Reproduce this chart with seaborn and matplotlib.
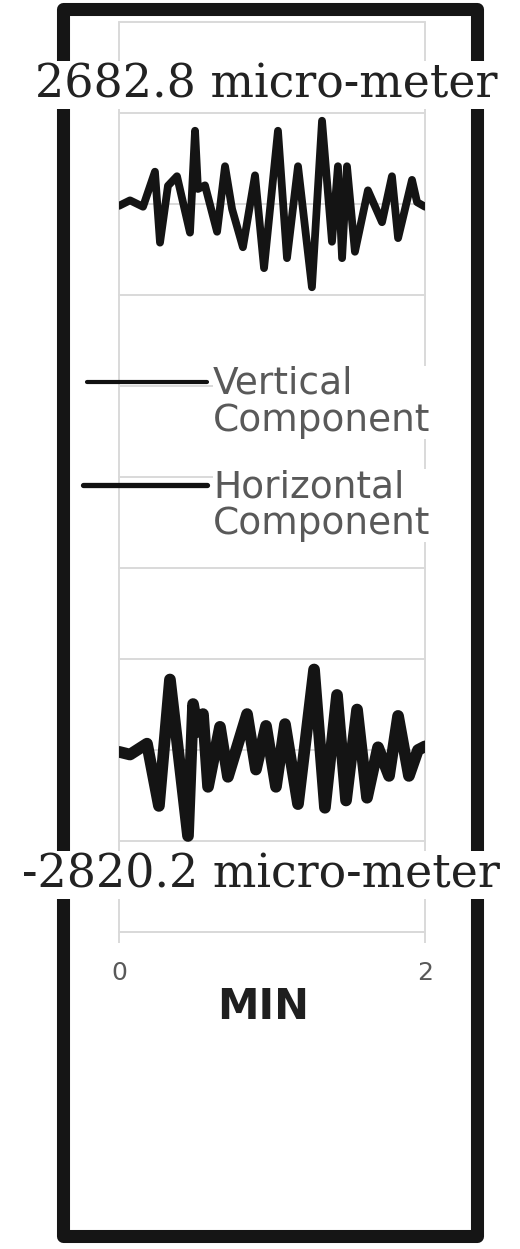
import numpy as np
import pandas as pd
import seaborn as sns
from matplotlib import pyplot as plt
from matplotlib.lines import Line2D
from matplotlib.patches import Rectangle

# time in minutes, displacement in micro-meter (relative to each trace's baseline)
vertical_time = [0.0, 0.072, 0.157, 0.235, 0.268, 0.32, 0.379, 0.464, 0.497, 0.516,
                 0.562, 0.641, 0.693, 0.739, 0.81, 0.889, 0.948, 1.039, 1.098, 1.17,
                 1.261, 1.327, 1.392, 1.431, 1.458, 1.49, 1.542, 1.627, 1.719, 1.784,
                 1.824, 1.915, 1.948, 2.0]
vertical_disp = [-20, 40, -30, 355, -425, 200, 305, -315, 805, 165,
                 205, -305, 415, -55, -475, 315, -705, 805, -595, 415,
                 -915, 915, -415, 415, -595, 415, -525, 150, -200, 305,
                 -375, 265, 20, -30]

horizontal_time = [0.0, 0.072, 0.183, 0.261, 0.333, 0.451, 0.484, 0.516, 0.549, 0.582,
                   0.66, 0.712, 0.837, 0.895, 0.961, 1.026, 1.085, 1.17, 1.275, 1.346,
                   1.425, 1.484, 1.556, 1.621, 1.693, 1.765, 1.824, 1.895, 1.954, 2.0]
horizontal_disp = [-20, -50, 70, -615, 775, -945, 505, 200, 395, -405,
                   255, -295, 395, -215, 265, -405, 285, -595, 885, -635,
                   605, -555, 445, -525, 30, -285, 375, -285, 0, 40]

vertical_offset = 3000
horizontal_offset = -3000
x_ticks = [0, 2]
y_grid = list(range(-5000, 5001, 1000))

top_label = '2682.8 micro-meter'
bottom_label = '-2820.2 micro-meter'
legend_labels = ['Vertical\nComponent', 'Horizontal\nComponent']

W, H = 520, 1249
sns.set_theme(style='white')
plt.rcParams['font.family'] = ['DejaVu Sans']

fig = plt.figure(figsize=(W / 100, H / 100), dpi=100)
fig.patch.set_facecolor('white')
ax = fig.add_axes([119 / W, 1 - 932 / H, 306 / W, 910 / H])

df_v = pd.DataFrame({'t': vertical_time, 'y': np.array(vertical_disp) + vertical_offset})
df_h = pd.DataFrame({'t': horizontal_time, 'y': np.array(horizontal_disp) + horizontal_offset})

sns.lineplot(data=df_v, x='t', y='y', ax=ax, sort=False, color='#141414', lw=5.6,
             solid_joinstyle='round', solid_capstyle='round', zorder=3)
sns.lineplot(data=df_h, x='t', y='y', ax=ax, sort=False, color='#141414', lw=8.4,
             solid_joinstyle='round', solid_capstyle='round', zorder=3)

ax.set_xlim(0, 2)
ax.set_ylim(-5000, 5000)
ax.set_xticks(x_ticks)
ax.set_xticklabels([str(v) for v in x_ticks])
ax.set_yticks(y_grid)
ax.set_ylabel('')
ax.grid(True, color='#d9d9d9', lw=1.4)
for gl in ax.get_xgridlines() + ax.get_ygridlines():
    gl.set_clip_on(False)
for side in ['left', 'right', 'top']:
    ax.spines[side].set_visible(False)
ax.spines['bottom'].set_color('#d9d9d9')
ax.spines['bottom'].set_linewidth(1.4)
ax.tick_params(axis='x', direction='out', length=8, width=1.4, color='#d9d9d9',
               labelsize=18, labelcolor='#595959', pad=13, bottom=True)
ax.tick_params(axis='y', length=0, labelleft=False)

ax.set_xlabel('MIN', fontsize=30, fontweight='bold', color='#1f1f1f')
ax.xaxis.set_label_coords(0.472, -0.0824)
ax.xaxis.label.set_va('center')

# outer frame
frame = Rectangle((63 / W, 1 - 1236 / H), 414 / W, 1227 / H, transform=fig.transFigure,
                  fill=False, edgecolor='#151515', lw=9.4, joinstyle='round', zorder=1)
fig.add_artist(frame)

# amplitude labels
fig.text(266 / W, 1 - 98 / H, top_label, family='DejaVu Serif', fontsize=33,
         color='#222222', ha='center', va='baseline', zorder=5,
         bbox=dict(facecolor='white', edgecolor='none', pad=1))
fig.text(261 / W, 1 - 888 / H, bottom_label, family='DejaVu Serif', fontsize=33,
         color='#222222', ha='center', va='baseline', zorder=5,
         bbox=dict(facecolor='white', edgecolor='none', pad=1))

# legend
legend_rows = [(382, 87, 3.0), (485, 83, 3.8)]
for (ly, lx0, lw), label in zip(legend_rows, legend_labels):
    fig.add_artist(Line2D([lx0 / W, 207 / W], [1 - ly / H, 1 - ly / H], transform=fig.transFigure,
                          color='#111111', lw=lw, solid_capstyle='round', zorder=4))
    fig.text(213 / W, 1 - (ly - 16) / H, label, fontsize=27, color='#595959', ha='left',
             va='top', linespacing=1.05, zorder=4,
             bbox=dict(facecolor='white', edgecolor='none', pad=0))

fig.savefig('out.png', dpi=100, facecolor='white')
